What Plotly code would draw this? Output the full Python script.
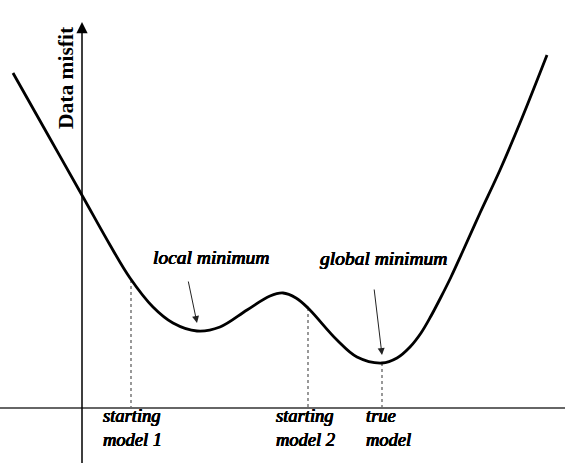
import plotly.graph_objects as go

# Misfit curve (model parameter vs data misfit, arbitrary units)
model_x = [13, 48, 83, 110, 130, 153, 173, 197, 220, 247, 270, 283, 296, 308, 337, 357, 382,
           397, 410, 421, 431, 441, 451, 462, 480, 500, 522, 547]
misfit = [390, 328, 266, 218, 185, 156, 140, 132, 136, 153, 167, 170, 165, 155, 123, 106, 100,
          105, 116, 130, 147, 166, 186, 210, 250, 293, 345, 408]

# Marked models on the model axis
marker_x = [131, 308, 382]
marker_misfit = [183, 155, 100]
marker_labels = ["starting<br>model 1", "starting<br>model 2", "true<br>model"]

baseline = 55          # misfit value where the horizontal model axis sits
yaxis_x = 82           # model value where the misfit axis sits
yaxis_top = 441

minima_labels = ["local minimum", "global minimum"]
minima_x = [197, 382]
minima_misfit = [132, 100]

FONT = "Liberation Serif"
FAKE_BOLD = "0.45px 0 0 #000, -0.45px 0 0 #000, 0 0.3px 0 #000, 0 -0.3px 0 #000"


def bi_font(size):
    return dict(family=FONT, size=size, color="black", style="italic",
                weight="normal", shadow=FAKE_BOLD)


fig = go.Figure()

for mx, my in zip(marker_x, marker_misfit):
    fig.add_trace(go.Scatter(x=[mx, mx], y=[my, baseline], mode="lines",
                             line=dict(color="#555555", width=1.2, dash="3px,3px"),
                             hoverinfo="skip", showlegend=False))

fig.add_trace(go.Scatter(x=model_x, y=misfit, mode="lines",
                         line=dict(color="black", width=2.8, shape="spline", smoothing=1.0),
                         hoverinfo="skip", showlegend=False))

shapes = [
    dict(type="line", xref="x", yref="y", x0=0, x1=565, y0=baseline, y1=baseline,
         line=dict(color="#666666", width=2)),
]

annotations = []
annotations.append(dict(x=yaxis_x, y=yaxis_top, ax=yaxis_x, ay=-5, xref="x", yref="y",
                        axref="x", ayref="y", showarrow=True, arrowhead=2, arrowsize=1.5,
                        arrowwidth=1.5, arrowcolor="black", text=""))
annotations.append(dict(x=66, y=385, xref="x", yref="y", text="<b>Data misfit</b>",
                        textangle=-90, showarrow=False,
                        font=dict(family=FONT, size=21.5, color="black")))

label_pos = [(151, 206), (318, 205)]
arrow_from = [(188, 183), (374, 175)]
for lab, (lx, ly), mx, my, (fx, fy) in zip(minima_labels, label_pos, minima_x, minima_misfit, arrow_from):
    annotations.append(dict(x=lx, y=ly, xref="x", yref="y", text=lab,
                            showarrow=False, xanchor="left", yanchor="middle",
                            font=bi_font(19.5)))
    annotations.append(dict(x=mx, y=my + 8, ax=fx, ay=fy, xref="x", yref="y",
                            axref="x", ayref="y", showarrow=True, arrowhead=2,
                            arrowsize=1.4, arrowwidth=1, arrowcolor="#222222", text=""))

label_left = [101, 274, 364]
for lx, t in zip(label_left, marker_labels):
    annotations.append(dict(x=lx, y=35, xref="x", yref="y", text=t,
                            showarrow=False, xanchor="left", yanchor="middle", align="left",
                            font=bi_font(18.5)))

fig.update_layout(
    width=565, height=463,
    margin=dict(l=0, r=0, t=0, b=0),
    paper_bgcolor="white", plot_bgcolor="white",
    xaxis=dict(visible=False, range=[0, 565], fixedrange=True),
    yaxis=dict(visible=False, range=[0, 463], fixedrange=True),
    shapes=shapes, annotations=annotations, showlegend=False,
)

fig.write_html("out.html")
